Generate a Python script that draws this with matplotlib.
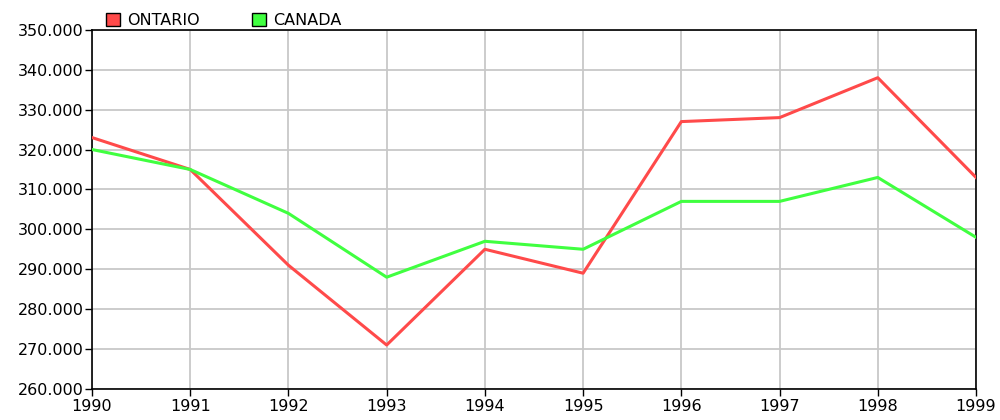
import matplotlib.pyplot as plt
from matplotlib.patches import Patch

years = [1990, 1991, 1992, 1993, 1994, 1995, 1996, 1997, 1998, 1999]
ontario = [323, 315, 291, 271, 295, 289, 327, 328, 338, 313]
canada = [320, 315, 304, 288, 297, 295, 307, 307, 313, 298]
y_ticks = [260, 270, 280, 290, 300, 310, 320, 330, 340, 350]

red = '#ff4a4a'
green = '#40ff40'

plt.rcParams['font.family'] = ['DejaVu Sans']

fig = plt.figure(figsize=(10, 4.2), dpi=100)
ax = fig.add_axes([0.092, 0.074, 0.884, 0.855])

ax.plot(years, ontario, color=red, lw=2.2, zorder=3)
ax.plot(years, canada, color=green, lw=2.2, zorder=3)

ax.set_xlim(years[0], years[-1])
ax.set_ylim(y_ticks[0], y_ticks[-1])
ax.set_xticks(years)
ax.set_yticks(y_ticks)
ax.set_yticklabels([f"{v:.3f}" for v in y_ticks])
ax.grid(True, color='#c8c8c8', lw=1.3)
ax.set_axisbelow(True)
ax.tick_params(labelsize=11.5, length=5, width=1, color='black', pad=1)
ax.tick_params(axis='x', pad=2.5)
for s in ax.spines.values():
    s.set_color('black')
    s.set_linewidth(1.2)

handles = [Patch(facecolor=red, edgecolor='black', lw=1, label='ONTARIO'),
           Patch(facecolor=green, edgecolor='black', lw=1, label='CANADA')]
ax.legend(handles=handles, loc='lower left', bbox_to_anchor=(0.016, 1.005),
          ncol=2, frameon=False, fontsize=11.5, handlelength=0.85,
          handleheight=0.85, handletextpad=0.45, columnspacing=3.3,
          borderpad=0, borderaxespad=0)

fig.savefig('out.png', dpi=100)
